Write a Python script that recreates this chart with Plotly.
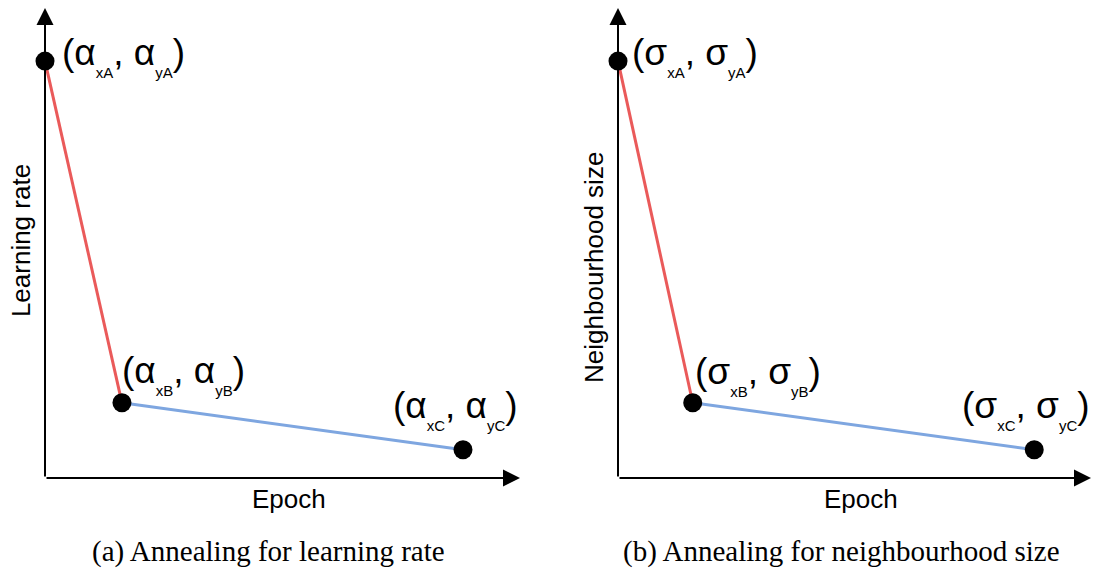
import plotly.graph_objects as go

W, H = 1095, 574

# Data (axis units 0-100 on both axes)
panels = ["a", "b"]
y_titles = ["Learning rate", "Neighbourhood size"]
x_title = "Epoch"
captions = ["(a) Annealing for learning rate", "(b) Annealing for neighbourhood size"]
greek = ["α", "σ"]
point_names = ["A", "B", "C"]
pts_x_a = [0, 16.2, 88.0]
pts_y_a = [88.7, 16.0, 6.0]
pts_x_b = [0, 15.8, 88.0]
pts_y_b = [88.7, 16.0, 6.0]
pts_x = [pts_x_a, pts_x_b]
pts_y = [pts_y_a, pts_y_b]

RED = "#EA5A5A"
BLUE = "#7EA6E0"

fig = go.Figure()

x_domains = [[45 / W, 520 / W], [618 / W, 1091 / W]]
y_domain = [96 / H, 566 / H]

# label offsets (px) relative to point: (xshift, yshift, xanchor)
label_offsets = [
    [(15, 5, "left"), (-2, 28, "left"), (-72, 40, "left")],
    [(12, 5, "left"), (0, 27, "left"), (-74, 40, "left")],
]
ytitle_pos = [(21 - 45, 0.504), (594 - 618, 0.447)]

annotations = []
for i in range(2):
    xa = "x" if i == 0 else "x2"
    ya = "y" if i == 0 else "y2"
    xs, ys = pts_x[i], pts_y[i]
    fig.add_trace(go.Scatter(x=xs[0:2], y=ys[0:2], mode="lines",
                             line=dict(color=RED, width=3), xaxis=xa, yaxis=ya,
                             hoverinfo="skip", showlegend=False))
    fig.add_trace(go.Scatter(x=xs[1:3], y=ys[1:3], mode="lines",
                             line=dict(color=BLUE, width=3), xaxis=xa, yaxis=ya,
                             hoverinfo="skip", showlegend=False))
    # axes arrows
    annotations.append(dict(x=100, y=0, ax=0, ay=0, xref=xa, yref=ya, axref=xa, ayref=ya,
                            text="", showarrow=True, arrowhead=2, arrowsize=1.7,
                            arrowwidth=2, arrowcolor="black", standoff=0))
    annotations.append(dict(x=0, y=100, ax=0, ay=0, xref=xa, yref=ya, axref=xa, ayref=ya,
                            text="", showarrow=True, arrowhead=2, arrowsize=1.7,
                            arrowwidth=2, arrowcolor="black", standoff=0))
    fig.add_trace(go.Scatter(x=xs, y=ys, mode="markers",
                             marker=dict(color="black", size=19), xaxis=xa, yaxis=ya,
                             cliponaxis=False, hoverinfo="skip", showlegend=False))
    g = greek[i]
    for j, nm in enumerate(point_names):
        txt = (f"({g}<sub><sub><span style='font-size:15px'>x{nm}</span></sub></sub>, "
               f"{g}<sub><sub><span style='font-size:15px'>y{nm}</span></sub></sub>)")
        dx, dy, anc = label_offsets[i][j]
        annotations.append(dict(x=xs[j], y=ys[j], xref=xa, yref=ya, text=txt,
                                showarrow=False, xanchor=anc, yanchor="middle",
                                xshift=dx, yshift=dy,
                                font=dict(family="Liberation Sans, Arial", size=37, color="black")))
    # axis titles
    dxp, yfrac = ytitle_pos[i]
    annotations.append(dict(x=0, y=yfrac, xref=f"{xa} domain", yref=f"{ya} domain",
                            text=y_titles[i], textangle=-90, showarrow=False,
                            xanchor="center", yanchor="middle", xshift=dxp,
                            font=dict(family="Liberation Sans, Arial", size=26, color="black")))
    annotations.append(dict(x=0.514, y=0, xref=f"{xa} domain", yref=f"{ya} domain",
                            text=x_title, showarrow=False, xanchor="center", yanchor="middle",
                            yshift=-21,
                            font=dict(family="Liberation Sans, Arial", size=26, color="black")))

caption_x = [268 / W, 841 / W]
for i in range(2):
    annotations.append(dict(x=caption_x[i], y=(H - 551) / H, xref="paper", yref="paper",
                            text=captions[i], showarrow=False, xanchor="center", yanchor="middle",
                            font=dict(family="Liberation Serif, Times New Roman", size=29, color="black")))

axis_common = dict(showgrid=False, zeroline=False, showticklabels=False, showline=False,
                   ticks="", range=[0, 100], fixedrange=True)
fig.update_layout(
    width=W, height=H, margin=dict(l=0, r=0, t=0, b=0),
    paper_bgcolor="white", plot_bgcolor="white",
    xaxis=dict(domain=x_domains[0], anchor="y", **axis_common),
    yaxis=dict(domain=y_domain, anchor="x", **axis_common),
    xaxis2=dict(domain=x_domains[1], anchor="y2", **axis_common),
    yaxis2=dict(domain=y_domain, anchor="x2", **axis_common),
    annotations=annotations,
    showlegend=False,
)

fig.write_html("out.html")
